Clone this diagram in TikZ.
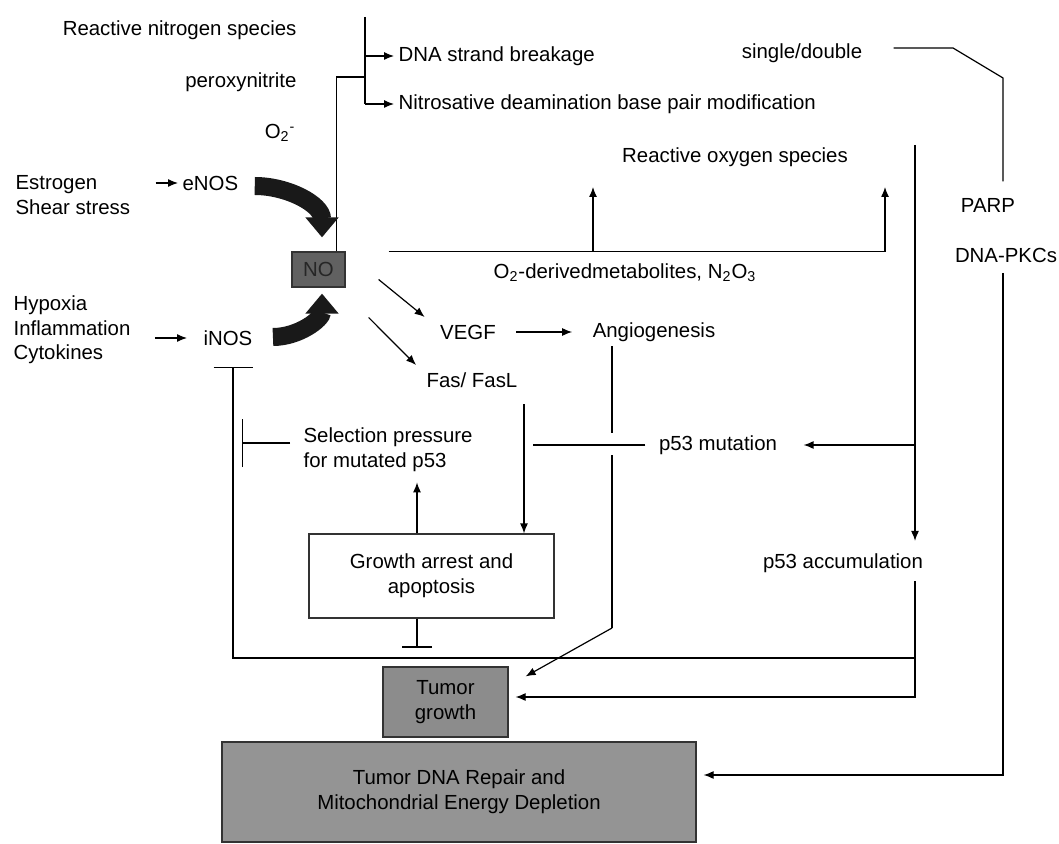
\documentclass[tikz,border=0pt]{standalone}
\usepackage{fontspec}
\setmainfont{Liberation Sans}
\usetikzlibrary{arrows.meta,positioning}

\begin{document}
\begin{tikzpicture}[x=0.5pt,y=-0.5pt,line width=0.6pt,
  every node/.style={font=\fontsize{10.2}{12.3}\selectfont,inner sep=2pt},
  lbl/.style={align=left},
  box/.style={draw=black!80,line width=0.6pt,align=center},
  arr/.style={-{Latex[length=5pt,width=4pt]}},
  fat/.style={line width=9pt,black!90,-{Triangle[length=10pt,width=16pt]}}]

   \useasboundingbox (0,0) rectangle (1059,844);

   % labels
   \node[anchor=east] (rns)   at (301,30)  {Reactive nitrogen species};
   \node[anchor=east] (perox) at (301,82)  {peroxynitrite};
   \node[anchor=east] (otwo)  at (300,133) {O\textsubscript{2}\textsuperscript{-}};
   \node[anchor=west] (dna)   at (394,56)  {DNA strand breakage};
   \node[anchor=west] (nitro) at (394,104) {Nitrosative deamination base pair modification};
   \node (single) at (802,53)  {single/double};
   \node (ros)    at (735,157) {Reactive oxygen species};
   \node (parp)   at (988,205) {PARP};
   \node (dnapk)  at (1006,255) {DNA-PKCs};
   \node[lbl,anchor=west] (estro) at (11,195) {Estrogen\\Shear stress};
   \node[anchor=west] (enos) at (178,183) {eNOS};
   \node[box,fill=black!62,text=black!85,minimum width=26.5pt,minimum height=17.5pt] (no) at (318.5,269.5) {NO};
   \node[lbl,anchor=west] (hypo) at (9,330) {Hypoxia\\Inflammation\\Cytokines};
   \node[anchor=west] (inos) at (199,338) {iNOS};
   \node (odm)   at (625,273) {O\textsubscript{2}-derivedmetabolites, N\textsubscript{2}O\textsubscript{3}};
   \node (vegf)  at (468,332) {VEGF};
   \node (angio) at (654,332) {Angiogenesis};
   \node (fas)   at (472,380) {Fas/ FasL};
   \node[lbl,anchor=west] (sel) at (299,450) {Selection pressure\\for mutated p53};
   \node (mut)   at (718,445) {p53 mutation};
   \node[box,minimum width=122.5pt,minimum height=42pt] (growth) at (431.5,576) {Growth arrest and\\apoptosis};
   \node (accum) at (843,563) {p53 accumulation};
   \node[box,fill=black!45,minimum width=62.5pt,minimum height=35pt] (tumor) at (445.5,702) {Tumor\\growth};
   \node[box,fill=black!42,minimum width=237pt,minimum height=50pt] (repair) at (459,792) {Tumor DNA Repair and\\Mitochondrial Energy Depletion};

   \coordinate (brtop) at (365,17);
   \coordinate (brmid) at (365,77);
   \coordinate (brbot) at (365,104);
   \coordinate (rosL) at (593,187);
   \coordinate (rosR) at (885,187);
   \coordinate (hopT) at (612,433);
   \coordinate (hopB) at (612,455);
   \coordinate (angb) at (612,628);
   \coordinate (mutend) at (533,443);
   \coordinate (selbar) at (242,443);
   \coordinate (rosv) at (915,145);
   \coordinate (accb) at (915,697);
   \coordinate (loopR) at (915,658);
   \coordinate (loopL) at (233,658);
   \coordinate (inosbar) at (233,367);
   \coordinate (sd1) at (953,48);
   \coordinate (sd2) at (1003,78);
   \coordinate (rpb) at (1003,775);

   % inducers
   \draw[arr,shorten <=10.5pt] (estro.east |- enos.west) -- (enos.west);
   \draw[arr,shorten <=10pt,shorten >=6pt] (hypo.east |- inos.west) -- (inos.west);

   % peroxynitrite
   \draw ([xshift=9pt]no.north) |- (brmid);
   \draw (brtop) -- (brbot);
   \draw[arr] (brtop |- dna.west) -- (dna.west);
   \draw[arr] (brbot) -- (nitro.west);

   % NOS to NO
   \draw[fat] ([xshift=6pt,yshift=-1.5pt]enos.east) to[out=0,in=90] ([xshift=1.75pt,yshift=7pt]no.north);
   \draw[fat] ([xshift=8pt,yshift=0.5pt]inos.east) to[out=0,in=-90] ([xshift=1.75pt,yshift=-3pt]no.south);

   % NO outputs
   \draw[arr] ([xshift=21.5pt]no.north east) -| (rosR);
   \draw[arr] (rosL |- no.north) -- (rosL);
   \draw[arr] ([xshift=16.5pt,yshift=-5pt]no.east) -- ([xshift=-5.5pt,yshift=7.5pt]vegf.west);
   \draw[arr] ([xshift=11.5pt,yshift=-24pt]no.east) -- ([xshift=-3pt,yshift=7.5pt]fas.west);
   \draw[arr,shorten <=8pt,shorten >=8pt] (vegf.east) -- (angio.west);

   \draw ([xshift=-21pt]angio.south) -- (hopT);
   \draw (hopB) -- (angb);
   \draw[arr] (angb) -- ([xshift=8.5pt,yshift=-5pt]tumor.north east);
   \draw[arr] ([xshift=26pt,yshift=-6pt]fas.south) -- ([xshift=26pt]fas.south |- growth.north);
   \draw[shorten <=4.5pt] (mut.west) -- (mut.west -| mutend);

   % selection pressure
   \draw[-{Bar[width=24pt]}] ([xshift=-4.5pt]sel.west |- selbar) -- (selbar);
   \draw[arr] ([xshift=-7.25pt]growth.north) -- ++(0,-51);
   \draw[-{Bar[width=15pt]}] ([xshift=-7.25pt]growth.south) -- ++(0,29);

   % p53
   \draw[arr] (rosv) -- ([yshift=4pt]rosv |- accum.north);
   \draw[arr,shorten >=11pt] (rosv |- mut.east) -- (mut.east);
   \draw[arr] ([yshift=-2pt]accum.south -| rosv) -- (accb) -- ([xshift=3.5pt]tumor.east |- accb);
   \draw[-{Bar[width=19.5pt]}] (loopR) -- (loopL) -- (inosbar);

   % strand breaks
   \draw ([xshift=13.5pt,yshift=2.5pt]single.east) -- (sd1) -- (sd2) -- ([yshift=6pt]sd2 |- parp.north);
   \draw[arr] ([yshift=-3pt]sd2 |- dnapk.south) -- (rpb) -- ([xshift=3.5pt]repair.east |- rpb);

\end{tikzpicture}
\end{document}
